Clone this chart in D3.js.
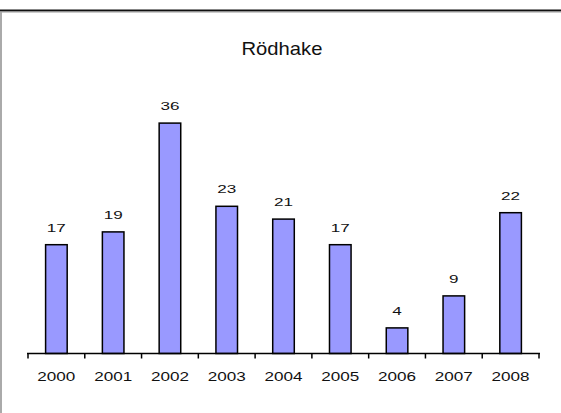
<!DOCTYPE html>
<html>
<head>
<meta charset="utf-8">
<style>
body { margin: 0; padding: 0; background: white; overflow: hidden; }
text { font-family: "Liberation Sans", Arial, sans-serif; fill: #111; }
.axis line { stroke: black; stroke-width: 1.5px; }
</style>
</head>
<body>
<script src="https://d3js.org/d3.v7.min.js"></script>
<script>
var years = ["2000", "2001", "2002", "2003", "2004", "2005", "2006", "2007", "2008"];
var counts = [17, 19, 36, 23, 21, 17, 4, 9, 22];
var title = "Rödhake";

var W = 561, H = 413;
var svg = d3.select("body").append("svg")
    .attr("width", W)
    .attr("height", H);

// frame: dark top edge, grey left edge
svg.append("line").attr("x1", 0).attr("x2", W).attr("y1", 10.5).attr("y2", 10.5)
    .attr("stroke", "#111").attr("stroke-width", 2);
svg.append("line").attr("x1", 0).attr("x2", W).attr("y1", 12).attr("y2", 12)
    .attr("stroke", "#999").attr("stroke-width", 1);
svg.append("line").attr("x1", 1).attr("x2", 1).attr("y1", 12).attr("y2", H)
    .attr("stroke", "#aaa").attr("stroke-width", 2);

// the original glyphs are stretched sideways, so widths are set with textLength
svg.append("text")
    .attr("x", 282).attr("y", 55)
    .attr("text-anchor", "middle")
    .attr("textLength", 81)
    .attr("lengthAdjust", "spacingAndGlyphs")
    .style("font-size", "19px")
    .text(title);

var x = d3.scaleBand()
    .domain(years)
    .range([28, 539])
    .paddingInner(0.62)
    .paddingOuter(0.31);

var y = d3.scaleLinear()
    .domain([0, 40])
    .range([353.5, 97.5]);

var data = years.map(function(d, i) { return { year: d, n: counts[i] }; });

svg.selectAll(".bar")
    .data(data)
    .enter().append("rect")
    .attr("class", "bar")
    .attr("x", function(d) { return x(d.year); })
    .attr("width", x.bandwidth())
    .attr("y", function(d) { return y(d.n); })
    .attr("height", function(d) { return y(0) - y(d.n); })
    .attr("fill", "#9999ff")
    .attr("stroke", "black")
    .attr("stroke-width", 1.5);

svg.selectAll(".val")
    .data(data)
    .enter().append("text")
    .attr("class", "val")
    .attr("x", function(d) { return x(d.year) + x.bandwidth() / 2; })
    .attr("y", function(d) { return y(d.n) - 13; })
    .attr("text-anchor", "middle")
    .attr("textLength", function(d) { return String(d.n).length * 9.5; })
    .attr("lengthAdjust", "spacingAndGlyphs")
    .style("font-size", "11.5px")
    .text(function(d) { return d.n; });

// axis line with ticks at category boundaries
var edges = d3.range(years.length + 1).map(function(i) { return 28 + i * (511 / years.length); });
var ax = svg.append("g").attr("class", "axis");
ax.append("line").attr("x1", 27).attr("x2", 540).attr("y1", y(0)).attr("y2", y(0));
ax.selectAll(".tk")
    .data(edges)
    .enter().append("line")
    .attr("x1", function(d) { return d; })
    .attr("x2", function(d) { return d; })
    .attr("y1", y(0))
    .attr("y2", y(0) + 5);

svg.selectAll(".yr")
    .data(years)
    .enter().append("text")
    .attr("class", "yr")
    .attr("x", function(d) { return x(d) + x.bandwidth() / 2; })
    .attr("y", 381)
    .attr("text-anchor", "middle")
    .attr("textLength", 38)
    .attr("lengthAdjust", "spacingAndGlyphs")
    .style("font-size", "13.5px")
    .text(function(d) { return d; });
</script>
</body>
</html>
